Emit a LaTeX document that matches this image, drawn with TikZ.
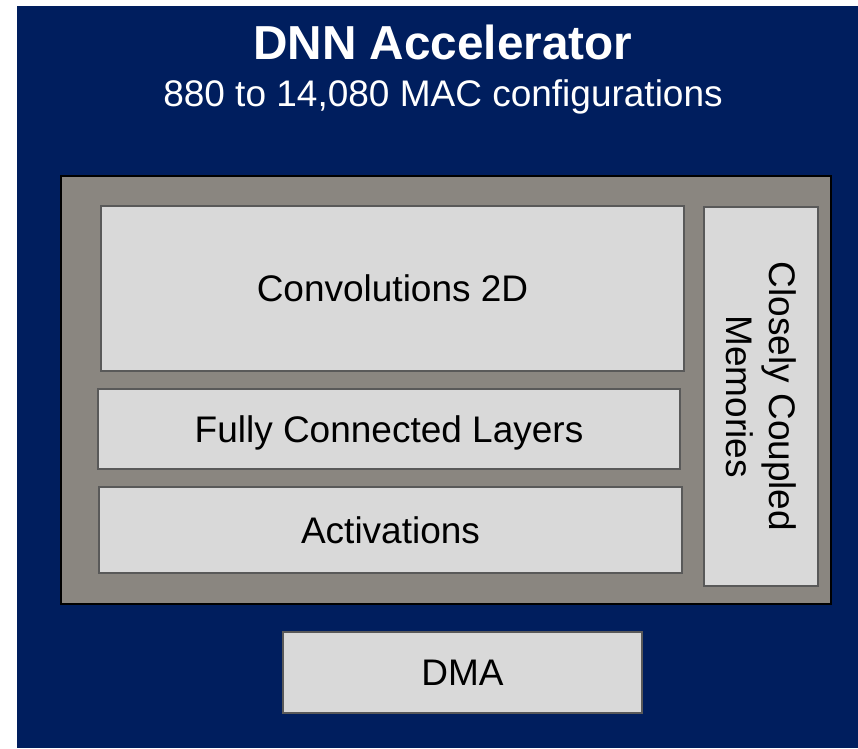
\documentclass[tikz,border=0pt]{standalone}
\usepackage{fontspec}
\setmainfont{Liberation Sans}
\usepackage{tikz}
\usetikzlibrary{positioning}
\usepackage{xcolor}

\definecolor{accnavy}{RGB}{0,30,94}
\definecolor{coregray}{RGB}{138,134,128}
\definecolor{unitfill}{RGB}{217,217,217}
\definecolor{unitline}{RGB}{89,89,89}

\begin{document}
\begin{tikzpicture}[x=1pt, y=-1pt]
                \tikzstyle{unit} = [shape=rectangle, fill=unitfill, draw=unitline, line width=2.2pt, inner sep=0pt, text depth=0pt, font=\fontsize{37}{43}\selectfont];

                \useasboundingbox (0,0) rectangle (858,748);
                \fill[accnavy] (17,6) rectangle (858,748);

                \node[text=white, font=\bfseries\fontsize{47.7}{54}\selectfont](title) at (443,42) {DNN Accelerator};
                \node[text=white, text depth=0pt, font=\fontsize{37}{43}\selectfont](subtitle) at (443,93) {880 to 14,080 MAC configurations};

                \node[shape=rectangle, fill=coregray, draw=black, line width=2.2pt, minimum width=770pt, minimum height=428pt](core) at (446,390) {};

                \node[unit, minimum width=583pt, minimum height=165pt](conv) at (392.5,288.5) {Convolutions 2D};
                \node[unit, minimum width=582pt, minimum height=80pt](fc) at (389,429) {Fully Connected Layers};
                \node[unit, minimum width=583pt, minimum height=86pt](act) at (390.5,530) {Activations};
                \node[unit, minimum width=114pt, minimum height=379pt](ccm) at (761,396.5) {};
                \node[font=\fontsize{37}{43}\selectfont, rotate=-90, align=center, inner sep=0pt](ccmtext) at (ccm.center) {Closely Coupled\\Memories};

                \node[unit, minimum width=359pt, minimum height=81pt](dma) at (462.5,672.5) {DMA};
            \end{tikzpicture}
\end{document}
